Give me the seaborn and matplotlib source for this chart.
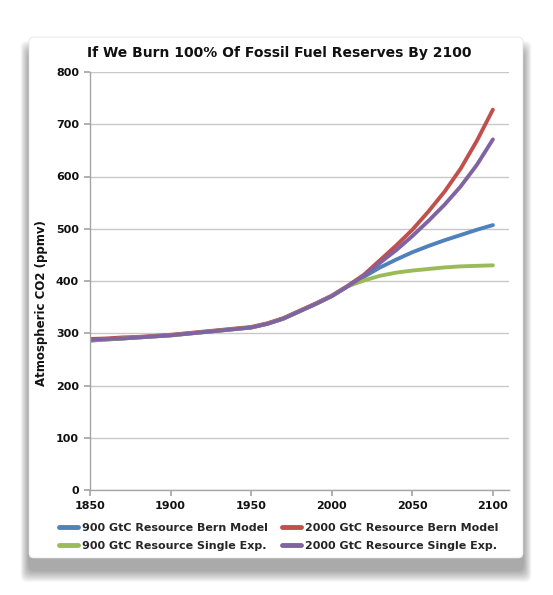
import numpy as np
import pandas as pd
import matplotlib.pyplot as plt
import seaborn as sns
from matplotlib.patches import FancyBboxPatch
from matplotlib.lines import Line2D

# values, one per decade
years = [1850, 1860, 1870, 1880, 1890, 1900, 1910, 1920, 1930, 1940, 1950, 1960, 1970,
         1980, 1990, 2000, 2010, 2020, 2030, 2040, 2050, 2060, 2070, 2080, 2090, 2100]
bern_900 = [286, 288, 290, 292, 294, 296, 299, 302, 305, 308, 311, 318, 328,
            342, 356, 371, 390, 408, 426, 441, 455, 467, 478, 488, 498, 507]
bern_2000 = [289, 290, 292, 293, 295, 297, 300, 303, 306, 309, 312, 319, 329,
             343, 357, 372, 391, 412, 440, 468, 498, 533, 571, 615, 668, 728]
single_900 = [286, 288, 290, 292, 294, 296, 299, 302, 305, 308, 311, 318, 328,
              342, 356, 371, 390, 401, 410, 416, 420, 423, 426, 428, 429, 430]
single_2000 = [287, 289, 290, 292, 294, 296, 299, 302, 305, 308, 311, 318, 328,
               342, 356, 371, 390, 410, 435, 459, 486, 515, 546, 581, 622, 671]

series_names = ["900 GtC Resource Bern Model", "2000 GtC Resource Bern Model",
                "900 GtC Resource Single Exp.", "2000 GtC Resource Single Exp."]
series_values = [bern_900, bern_2000, single_900, single_2000]
colors = ["#4F81BD", "#C0504D", "#9BBB59", "#8064A2"]

df = pd.concat([pd.DataFrame({"year": years, "co2": v, "series": n})
                for n, v in zip(series_names, series_values)])

sns.set_theme(style="white")
plt.rcParams['font.family'] = ['DejaVu Sans']
plt.rcParams['font.weight'] = 'bold'

W, H = 553, 595
fig = plt.figure(figsize=(W / 100, H / 100), dpi=100)
fig.patch.set_facecolor('white')

# card (pixel box) with a soft drop shadow, mostly below it
cx0, cy0, cx1, cy1 = 29, 37, 523, 558
x0, y0 = cx0 / W, (H - cy1) / H
w, h = (cx1 - cx0) / W, (cy1 - cy0) / H
for i in range(12):
    dx, dy = 0.7 * (i + 1) / W, (i + 1) / H
    fig.patches.append(FancyBboxPatch(
        (x0 - dx, y0 - 12 / H - dy), w + 2 * dx, h + 2 * dy - 4 / H,
        boxstyle="round,pad=0,rounding_size=0.012", transform=fig.transFigure,
        fc='black', ec='none', alpha=0.03, zorder=-10))
fig.patches.append(FancyBboxPatch(
    (x0, y0), w, h, boxstyle="round,pad=0,rounding_size=0.008",
    transform=fig.transFigure, fc='white', ec='#e0e0e0', lw=0.5, zorder=-5))

ax = fig.add_axes([90 / W, (H - 490) / H, (509 - 90) / W, (490 - 72) / H])
ax.set_facecolor('none')

sns.lineplot(data=df, x="year", y="co2", hue="series", hue_order=series_names,
             palette=colors, linewidth=2.8, legend=False, ax=ax)

ax.set_xlim(1850, 2110)
ax.set_ylim(0, 800)
ax.set_xticks(range(1850, 2101, 50))
ax.set_yticks(range(0, 801, 100))
ax.yaxis.grid(True, color='#c8c8c8', lw=1)
ax.set_axisbelow(True)
for s in ['top', 'right']:
    ax.spines[s].set_visible(False)
for s in ['left', 'bottom']:
    ax.spines[s].set_color('#a6a6a6')
    ax.spines[s].set_linewidth(1)
ax.tick_params(axis='y', left=True, length=4, color='#a6a6a6', pad=4,
               labelsize=8, labelcolor='#111111')
ax.tick_params(axis='x', bottom=True, length=4, color='#a6a6a6', pad=4,
               labelsize=8, labelcolor='#111111')
for lbl in ax.get_xticklabels() + ax.get_yticklabels():
    lbl.set_fontweight('bold')

ax.set_xlabel('')
ax.set_ylabel('Atmospheric CO2 (ppmv)', fontsize=8.5, fontweight='bold', color='#111111')
ax.yaxis.set_label_coords(-0.10, 0.447)

fig.text(0.505, (H - 57) / H, 'If We Burn 100% Of Fossil Fuel Reserves By 2100',
         ha='center', va='baseline', fontsize=10, fontweight='bold', color='#111111')

handles = [Line2D([], [], color=c, lw=3.5) for c in colors]
order = [0, 2, 1, 3]
fig.legend([handles[i] for i in order], [series_names[i] for i in order],
           ncol=2, loc='center', bbox_to_anchor=(0.504, (H - 537) / H), frameon=False,
           prop={'size': 8, 'weight': 'bold'}, handlelength=1.7,
           columnspacing=1.26, labelspacing=0.75, handletextpad=0.36)

fig.savefig('out.png', dpi=100)
plt.close(fig)
